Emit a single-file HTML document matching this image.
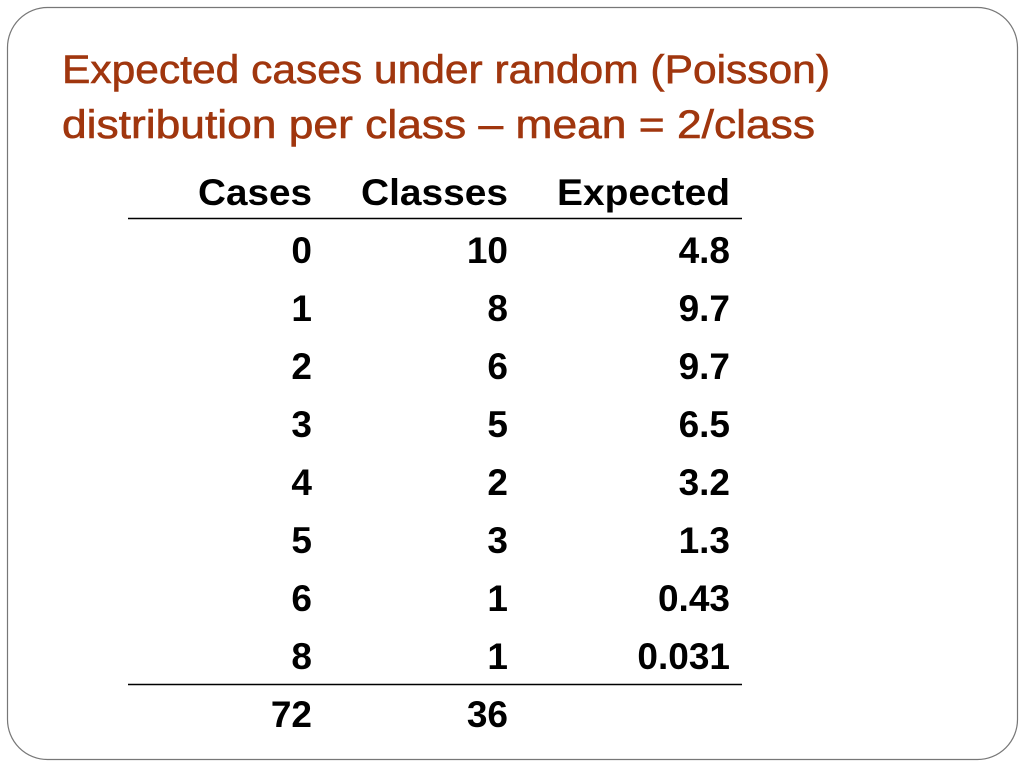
<!DOCTYPE html>
<html><head><meta charset="utf-8"><style>
html,body{margin:0;padding:0;background:#fff;}
svg{display:block;}
</style></head><body>
<svg width="1024" height="768" viewBox="0 0 1024 768" xmlns="http://www.w3.org/2000/svg">
<rect x="7.5" y="7.5" width="1010" height="752" rx="40" ry="40" fill="#fff" stroke="#777" stroke-width="1.2"/>
<g font-family="Liberation Sans, sans-serif" fill="#a0360e" stroke="#a0360e" stroke-width="0.6" font-size="40">
<text x="62" y="83" textLength="768" lengthAdjust="spacingAndGlyphs">Expected cases under random (Poisson)</text>
<text x="62" y="138" textLength="753" lengthAdjust="spacingAndGlyphs">distribution per class – mean = 2/class</text>
</g>
<g font-family="Liberation Sans, sans-serif" font-weight="bold" font-size="37" fill="#000" text-anchor="end">
<text x="312" y="205" textLength="114" lengthAdjust="spacingAndGlyphs">Cases</text><text x="508" y="205" textLength="147" lengthAdjust="spacingAndGlyphs">Classes</text><text x="730" y="205" textLength="173" lengthAdjust="spacingAndGlyphs">Expected</text>
<text x="312" y="263">0</text><text x="508" y="263">10</text><text x="730" y="263">4.8</text>
<text x="312" y="321">1</text><text x="508" y="321">8</text><text x="730" y="321">9.7</text>
<text x="312" y="379">2</text><text x="508" y="379">6</text><text x="730" y="379">9.7</text>
<text x="312" y="437">3</text><text x="508" y="437">5</text><text x="730" y="437">6.5</text>
<text x="312" y="495">4</text><text x="508" y="495">2</text><text x="730" y="495">3.2</text>
<text x="312" y="553">5</text><text x="508" y="553">3</text><text x="730" y="553">1.3</text>
<text x="312" y="611">6</text><text x="508" y="611">1</text><text x="730" y="611">0.43</text>
<text x="312" y="669">8</text><text x="508" y="669">1</text><text x="730" y="669">0.031</text>
<text x="312" y="727">72</text><text x="508" y="727">36</text>
</g>
<line x1="128" y1="218.5" x2="742" y2="218.5" stroke="#000" stroke-width="1.5"/>
<line x1="128" y1="684.5" x2="742" y2="684.5" stroke="#000" stroke-width="1.5"/>
</svg>
</body></html>
